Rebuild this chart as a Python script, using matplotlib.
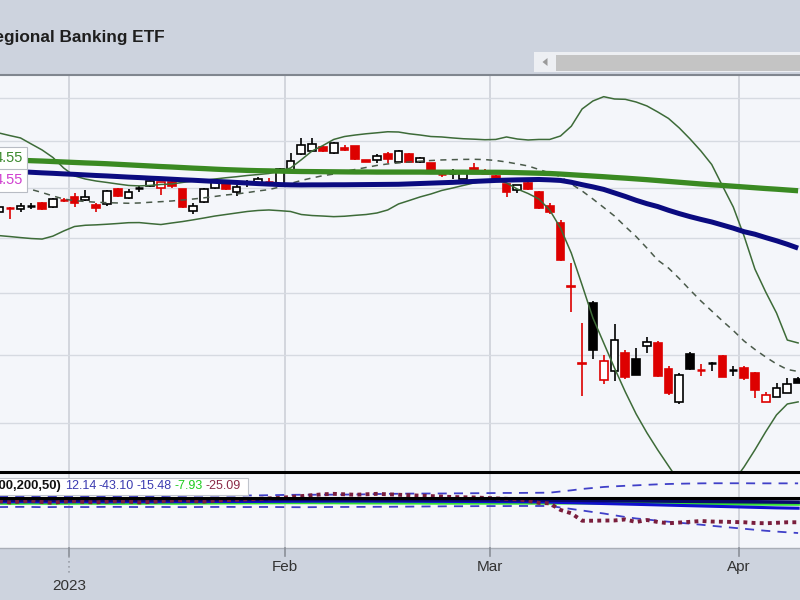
import numpy as np
import pandas as pd
import matplotlib
matplotlib.use('Agg')
import matplotlib.pyplot as plt
from matplotlib.patches import Rectangle, Polygon
from matplotlib.lines import Line2D
from matplotlib.transforms import blended_transform_factory

# trading days, Dec 20 2022 .. Apr 11 2023
holidays = ['2022-12-26', '2023-01-02', '2023-01-16', '2023-02-20', '2023-04-07']
dates = pd.bdate_range('2022-12-20', '2023-04-11', freq='C', holidays=holidays)

opens = [57.50, 57.52, 58.00, 57.79, 58.14, 58.40, 57.99, 58.78,
         59.07, 58.73, 58.23, 58.30, 59.82, 58.96, 59.90, 60.18, 59.92, 60.56,
         59.82, 57.66, 58.56, 59.92, 60.32, 59.57, 60.40, 60.49, 60.58, 60.35,
         61.84, 63.57, 63.90, 64.31, 63.71, 64.20, 64.45, 62.92, 62.92, 63.54,
         62.74, 63.54, 62.74, 62.56, 61.43, 61.48, 60.89, 62.08, 61.57, 61.20,
         60.32, 59.75, 60.49, 59.57, 58.12, 56.48, 50.65, 44.36, 49.16, 43.08,
         43.78, 45.11, 44.64, 45.68, 45.92, 43.88, 41.49, 45.06, 43.82, 44.32,
         44.90, 43.82, 43.98, 43.58, 41.51, 41.87, 42.16, 43.12]
highs = [58.10, 58.22, 58.02, 58.40, 58.46, 58.50, 58.96, 58.90,
         59.48, 59.75, 58.40, 59.75, 59.92, 59.82, 60.13, 60.79, 60.62, 60.71,
         59.90, 58.40, 59.92, 60.79, 60.42, 60.25, 60.79, 61.13, 60.96, 62.05,
         63.65, 65.31, 65.31, 64.45, 64.93, 64.56, 64.50, 62.95, 63.54, 63.76,
         64.01, 63.65, 63.20, 62.60, 61.84, 61.95, 61.65, 62.56, 61.90, 61.30,
         60.40, 60.30, 60.60, 59.65, 58.40, 56.74, 52.72, 47.55, 49.38, 44.98,
         47.44, 45.37, 45.50, 46.41, 46.07, 44.15, 43.60, 45.24, 44.29, 44.46,
         44.98, 44.15, 44.13, 43.65, 42.17, 42.88, 43.20, 43.27]
lows = [57.30, 57.32, 56.81, 57.55, 57.79, 57.75, 57.89, 58.56,
        57.99, 58.63, 57.55, 58.15, 59.04, 58.80, 59.57, 60.08, 59.24, 59.92,
        57.92, 57.29, 58.40, 59.85, 59.72, 59.14, 60.08, 60.42, 60.35, 60.13,
        61.66, 63.46, 63.76, 63.76, 63.54, 63.93, 62.95, 62.70, 62.63, 62.56,
        62.63, 62.63, 62.63, 61.70, 61.06, 60.89, 60.85, 61.55, 61.40, 60.80,
        59.07, 59.42, 59.75, 57.80, 57.38, 52.90, 48.46, 41.92, 44.64, 42.79,
        43.01, 43.15, 43.45, 45.16, 43.30, 41.99, 41.34, 43.85, 43.38, 43.78,
        43.30, 43.38, 43.08, 41.77, 41.45, 41.85, 42.10, 42.85]
closes = [57.80, 58.02, 57.97, 58.15, 58.16, 57.85, 58.83, 58.73,
          58.40, 59.07, 57.89, 59.65, 59.14, 59.57, 59.93, 60.65, 60.58, 60.14,
          57.99, 58.12, 59.82, 60.60, 59.82, 60.08, 60.43, 60.89, 60.55, 61.91,
          62.84, 64.60, 64.66, 63.93, 64.75, 64.01, 63.00, 62.74, 63.38, 63.03,
          63.90, 62.74, 63.16, 61.77, 61.40, 61.50, 61.60, 61.58, 61.55, 60.86,
          59.57, 60.25, 59.82, 57.89, 57.55, 52.96, 50.56, 44.29, 45.37, 44.54,
          46.15, 43.34, 43.46, 45.97, 43.38, 42.13, 43.48, 43.88, 43.80, 44.34,
          43.34, 43.83, 43.23, 42.35, 41.99, 42.53, 42.81, 42.88]

ma_green = [63.02, 62.97, 62.93, 62.89, 62.84, 62.80, 62.75, 62.70,
            62.65, 62.60, 62.56, 62.51, 62.45, 62.39, 62.33, 62.27, 62.21, 62.16,
            62.10, 62.04, 61.99, 61.93, 61.88, 61.84, 61.80, 61.77, 61.75, 61.72,
            61.70, 61.68, 61.67, 61.66, 61.65, 61.64, 61.63, 61.63, 61.62, 61.62,
            61.62, 61.62, 61.62, 61.61, 61.61, 61.61, 61.61, 61.60, 61.60, 61.60,
            61.59, 61.56, 61.53, 61.50, 61.47, 61.41, 61.34, 61.27, 61.20, 61.13,
            61.05, 60.98, 60.90, 60.82, 60.73, 60.64, 60.55, 60.46, 60.37, 60.29,
            60.22, 60.14, 60.06, 59.98, 59.90, 59.83, 59.75, 59.67]
ma_navy = [61.83, 61.78, 61.72, 61.66, 61.60, 61.54, 61.49, 61.43,
           61.38, 61.32, 61.26, 61.21, 61.15, 61.09, 61.04, 60.98, 60.93, 60.87,
           60.81, 60.76, 60.70, 60.64, 60.59, 60.53, 60.47, 60.41, 60.36, 60.31,
           60.28, 60.27, 60.28, 60.28, 60.29, 60.29, 60.30, 60.31, 60.32, 60.33,
           60.34, 60.38, 60.42, 60.46, 60.50, 60.54, 60.59, 60.64, 60.69, 60.74,
           60.77, 60.80, 60.82, 60.84, 60.80, 60.74, 60.55, 60.30, 60.07, 59.81,
           59.45, 59.09, 58.70, 58.36, 58.07, 57.70, 57.37, 57.07, 56.80, 56.55,
           56.25, 55.95, 55.61, 55.37, 55.05, 54.75, 54.42, 54.06]
bb_upper = [66.25, 65.91, 65.62, 65.35, 64.67, 64.01, 63.19, 62.05,
            61.21, 60.89, 60.68, 60.53, 60.37, 60.22, 60.17, 60.22, 60.32, 60.37,
            60.53, 60.68, 60.74, 60.89, 61.02, 61.13, 61.26, 61.36, 61.47, 61.73,
            62.05, 62.94, 63.90, 64.50, 65.18, 65.51, 65.68, 65.82, 65.93, 66.05,
            66.02, 65.82, 65.68, 65.51, 65.46, 65.35, 65.26, 65.21, 65.15, 65.18,
            65.46, 65.23, 65.12, 65.18, 65.18, 65.57, 66.68, 68.69, 69.64, 70.16,
            69.88, 69.84, 69.52, 69.05, 68.34, 67.58, 66.48, 65.23, 63.90, 62.43,
            60.17, 58.02, 55.19, 52.15, 50.13, 48.35, 46.15, 45.92]
bb_middle = [60.37, 60.17, 60.06, 59.96, 59.80, 59.49, 59.14, 58.83,
             58.66, 58.58, 58.50, 58.46, 58.43, 58.40, 58.43, 58.50, 58.56, 58.63,
             58.73, 58.83, 58.95, 59.09, 59.24, 59.34, 59.48, 59.65, 59.79, 60.06,
             60.42, 60.74, 61.00, 61.24, 61.41, 61.68, 61.90, 62.11, 62.33, 62.49,
             62.60, 62.70, 62.79, 62.86, 62.92, 62.95, 62.98, 62.99, 62.96, 62.86,
             62.70, 62.49, 62.27, 61.90, 61.52, 61.15, 60.37, 59.65, 58.83, 57.98,
             57.13, 56.11, 55.15, 54.07, 52.96, 52.24, 51.30, 50.30, 49.36, 48.52,
             47.69, 46.91, 46.07, 45.41, 44.82, 44.29, 43.87, 43.72]
bb_lower = [55.48, 55.24, 55.15, 55.05, 54.96, 54.91, 55.19, 55.68,
            56.11, 56.23, 56.27, 56.33, 56.40, 56.48, 56.49, 56.39, 56.30, 56.45,
            56.59, 56.76, 56.94, 57.13, 57.28, 57.43, 57.58, 57.68, 57.73, 57.66,
            57.58, 57.28, 57.18, 57.13, 57.07, 57.11, 57.20, 57.28, 57.43, 57.73,
            58.33, 58.68, 59.04, 59.34, 59.70, 59.95, 60.22, 60.48, 60.68, 60.79,
            60.48, 59.85, 59.39, 58.83, 57.73, 55.96, 53.60, 50.73, 47.94, 45.92,
            43.98, 42.21, 40.64, 39.34, 38.20, 37.16, 36.15, 35.35, 34.87, 34.87,
            35.29, 36.15, 37.10, 38.20, 39.41, 40.57, 41.34, 41.49]

# lower panel oscillator
osc_upper = [-2.0, -2.1, -2.0, -1.9, -2.0, -2.1, -2.0, -2.0,
             -1.9, -2.0, -2.0, -2.1, -2.0, -1.9, -2.0, -2.0, -2.0, -1.8,
             -1.7, -1.5, -1.5, -1.4, -1.5, -1.5, -1.3, -1.2, -1.0, -0.8,
             -0.6, -0.5, -0.5, -0.4, -0.4, -0.3, -0.2, 0.0, 0.3, 0.5,
             0.6, 0.8, 0.8, 0.9, 0.9, 1.0, 1.1, 1.2, 1.3, 1.4,
             1.5, 1.5, 1.6, 1.7, 1.8, 3.1, 4.4, 5.9, 7.0, 8.1,
             8.8, 9.4, 9.9, 10.5, 11.0, 11.4, 11.7, 11.9, 12.1, 12.2,
             12.2, 12.2, 12.2, 12.1, 12.1, 12.1, 12.1, 12.1]
osc_lower = [-14.0, -14.1, -14.0, -13.9, -14.0, -14.2, -14.1, -14.0,
             -14.0, -14.1, -14.0, -13.9, -13.9, -14.0, -14.1, -14.0, -14.0, -14.1,
             -14.2, -14.1, -14.0, -14.0, -13.9, -14.0, -14.1, -14.0, -14.0, -14.1,
             -14.2, -14.3, -14.2, -14.1, -14.0, -14.0, -13.9, -13.9, -13.8, -13.8,
             -13.7, -13.6, -13.5, -13.4, -13.3, -13.2, -13.2, -13.1, -13.0, -13.0,
             -13.0, -12.9, -12.9, -12.9, -12.9, -14.6, -16.2, -17.9, -19.6, -21.2,
             -23.2, -25.1, -26.7, -27.8, -29.2, -30.3, -31.4, -32.5, -33.6, -34.8,
             -35.9, -37.0, -38.1, -39.2, -40.3, -41.2, -42.0, -42.8]
osc_mid = [-8.3, -8.4, -8.3, -8.2, -8.3, -8.4, -8.3, -8.3,
           -8.2, -8.3, -8.3, -8.4, -8.3, -8.2, -8.3, -8.3, -8.3, -8.2,
           -8.2, -8.1, -8.1, -8.0, -8.0, -8.0, -7.9, -7.9, -7.8, -7.8,
           -7.7, -7.7, -7.6, -7.6, -7.5, -7.5, -7.5, -7.5, -7.6, -7.6,
           -7.6, -7.7, -7.7, -7.8, -7.8, -7.9, -7.9, -8.0, -8.0, -8.1,
           -8.1, -8.2, -8.3, -8.4, -8.6, -9.0, -9.3, -9.6, -9.9, -10.2,
           -10.5, -10.8, -11.1, -11.4, -11.7, -12.0, -12.3, -12.6, -12.9, -13.2,
           -13.5, -13.8, -14.1, -14.4, -14.7, -15.0, -15.2, -15.4]
osc_green = [-9.6, -9.6, -9.7, -9.6, -9.5, -9.6, -9.7, -9.6,
             -9.6, -9.5, -9.6, -9.6, -9.7, -9.6, -9.6, -9.5, -9.5, -9.6,
             -9.6, -9.5, -9.4, -9.4, -9.3, -9.3, -9.2, -9.2, -9.1, -9.1,
             -9.0, -9.0, -9.0, -9.1, -9.1, -9.2, -9.2, -9.3, -9.3, -9.3,
             -9.4, -9.4, -9.4, -9.5, -9.5, -9.5, -9.5, -9.5, -9.5, -9.5,
             -9.5, -9.5, -9.5, -9.5, -9.5, -9.4, -9.3, -9.3, -9.4, -9.5,
             -9.6, -9.7, -9.8, -9.9, -10.0, -10.1, -10.2, -10.3, -10.3, -10.4,
             -10.4, -10.5, -10.5, -10.6, -10.6, -10.7, -10.7, -10.7]
osc_navy = [-6.3, -6.3, -6.4, -6.3, -6.2, -6.3, -6.4, -6.3,
            -6.3, -6.2, -6.3, -6.3, -6.4, -6.3, -6.3, -6.2, -6.2, -6.3,
            -6.3, -6.2, -6.1, -6.1, -6.0, -6.0, -5.9, -5.9, -5.8, -5.8,
            -5.8, -5.8, -5.8, -5.9, -5.9, -5.9, -6.0, -6.0, -6.0, -6.1,
            -6.1, -6.1, -6.2, -6.2, -6.2, -6.3, -6.3, -6.3, -6.3, -6.3,
            -6.3, -6.3, -6.3, -6.3, -6.4, -6.5, -6.6, -6.7, -6.8, -6.9,
            -7.0, -7.1, -7.2, -7.3, -7.4, -7.5, -7.6, -7.7, -7.8, -7.9,
            -8.0, -8.1, -8.2, -8.3, -8.4, -8.5, -8.6, -8.7]
osc_line = [-8.5, -7.5, -9.0, -8.0, -7.0, -8.5, -9.5, -8.0,
            -7.5, -8.5, -9.0, -8.0, -7.5, -8.0, -9.0, -8.5, -7.5, -7.0,
            -6.5, -7.5, -8.0, -7.0, -6.5, -6.0, -5.5, -5.0, -4.5, -4.0,
            -3.0, -2.0, -1.0, 0.0, 0.5, 0.0, -0.5, 0.0, 0.5, 0.0,
            -0.5, -1.0, -1.5, -2.0, -2.5, -3.0, -3.3, -3.5, -4.0, -4.5,
            -5.0, -5.5, -7.0, -9.5, -10.0, -17.3, -21.0, -29.2, -29.2, -29.0,
            -28.9, -27.8, -30.6, -28.4, -30.6, -32.0, -31.2, -30.4, -29.5, -30.1,
            -30.3, -30.6, -30.9, -31.7, -32.0, -31.5, -30.9, -30.9]
osc_params = '(100,200,50)'
osc_values = ['12.14', '-43.10', '-15.48', '-7.93', '-25.09']
osc_colors = ['#3A3AB0', '#3A3AB0', '#3A3AB0', '#1ECC1E', '#8A2A48']

W, H = 800, 600
HEADER = '#CDD3DE'
PANEL = '#F4F6FA'
GRID = '#D6DAE1'
RED = '#DD0000'
plt.rcParams['font.family'] = ['Liberation Sans', 'DejaVu Sans']


def box(x0, y0, x1, y1):
    return [x0 / W, 1 - y1 / H, (x1 - x0) / W, (y1 - y0) / H]


x = np.arange(len(dates))
x = x - 8  # Jan 3 sits at 0
x_left, x_right = -74.5 / 10.8, (W - 74.5) / 10.8

# month boundaries
month_first = [i for i in range(1, len(dates)) if dates[i].month != dates[i - 1].month]
bounds = [x[i] - 0.5 for i in month_first]
bound_labels = ['2023' if dates[i].month == 1 else dates[i].strftime('%b') for i in month_first]

fig = plt.figure(figsize=(8, 6), dpi=100, facecolor=HEADER)
renderer = fig.canvas.get_renderer()

# header
fig.text(165 / W, 1 - 42 / H, 'Regional Banking ETF', ha='right', va='baseline',
         fontsize=12.4, fontweight='bold', color='#1E1E1E')
fig.patches.append(Rectangle((534 / W, 1 - 72 / H), (W - 534) / W, 20 / H,
                             transform=fig.transFigure, facecolor='#EDEFF3', edgecolor='none'))
fig.patches.append(Rectangle((556 / W, 1 - 71 / H), (W - 556) / W, 16 / H,
                             transform=fig.transFigure, facecolor='#C4C4C4', edgecolor='none'))
fig.patches.append(Polygon([(542.5 / W, 1 - 62 / H), (547.5 / W, 1 - 58 / H), (547.5 / W, 1 - 66 / H)],
                           closed=True, transform=fig.transFigure, facecolor='#9A9A9A', edgecolor='none'))

# price panel
ax = fig.add_axes(box(0, 74.5, W, 472))
ax.set_facecolor(PANEL)
ax.set_yscale('log')
ax.set_xlim(x_left, x_right)
ax.set_ylim(70 * np.exp(-(472 - 98) / 581), 70 * np.exp((98 - 74.5) / 581))
ax.set_yticks([40, 45, 50, 55, 60, 65, 70])
ax.yaxis.set_minor_locator(matplotlib.ticker.NullLocator())
ax.grid(axis='y', color=GRID, lw=1)
ax.tick_params(left=False, labelleft=False, bottom=False, labelbottom=False)
for b in bounds:
    ax.axvline(b, color='#C9CDD5', lw=1.1, zorder=1)
for s in ['left', 'right', 'bottom']:
    ax.spines[s].set_visible(False)
ax.spines['top'].set_color('#80868F')
ax.spines['top'].set_linewidth(1.5)

w = 0.72
for i in range(len(x)):
    o, h, l, c = opens[i], highs[i], lows[i], closes[i]
    prev = closes[i - 1] if i > 0 else o
    col = RED if c < prev else 'black'
    ax.vlines(x[i], l, h, color=col, lw=1.2, zorder=2)
    if abs(c - o) / c < 0.0012:
        ax.hlines(c, x[i] - w / 2, x[i] + w / 2, color=col, lw=1.8, zorder=3)
    else:
        face = 'white' if c > o else col
        ax.add_patch(Rectangle((x[i] - w / 2, min(o, c)), w, abs(c - o),
                               facecolor=face, edgecolor=col, lw=1.2, zorder=3))

bb_col = '#3D6B38'
ax.plot(x, bb_upper, color=bb_col, lw=1.1, zorder=4)
ax.plot(x, bb_lower, color=bb_col, lw=1.1, zorder=4)
ax.plot(x, bb_middle, color='#4A5A4A', lw=1.1, dashes=(4, 3.5), zorder=4)
ax.plot(x, ma_green, color='#3A8A22', lw=3.8, zorder=5, solid_capstyle='butt')
ax.plot(x, ma_navy, color='#0B0B80', lw=3.6, zorder=6, solid_capstyle='butt')

for yy, col in [(158.5, '#3C8A2E'), (180.5, '#D040D0')]:
    fig.text(23 / W, 1 - yy / H, '4.55', ha='right', va='center', fontsize=10.5,
             color=col, zorder=10,
             bbox=dict(boxstyle='square,pad=0.3', facecolor='white', edgecolor='#B8BCC4', lw=0.8))

# oscillator panel
ax2 = fig.add_axes(box(0, 472, W, 548))
ax2.set_facecolor(PANEL)
ax2.set_xlim(x_left, x_right)
ax2.set_ylim((494.3 - 548) / 0.905, (494.3 - 472) / 0.905)
ax2.tick_params(left=False, labelleft=False, bottom=False, labelbottom=False)
for b in bounds:
    ax2.axvline(b, color='#C9CDD5', lw=1.1, zorder=1)
for s in ['left', 'right']:
    ax2.spines[s].set_visible(False)
ax2.spines['top'].set_color('black')
ax2.spines['top'].set_linewidth(2.2)
ax2.spines['bottom'].set_color('#A9AEB7')
ax2.spines['bottom'].set_linewidth(1.0)

ax2.plot(x, osc_upper, color='#4040C8', lw=1.3, dashes=(5, 4), zorder=2)
ax2.plot(x, osc_lower, color='#4040C8', lw=1.3, dashes=(5, 4), zorder=2)
ax2.plot(x, osc_green, color='#33E033', lw=2.6, zorder=3)
ax2.plot(x, osc_mid, color='#1010D0', lw=2.2, zorder=3)
ax2.plot(x, osc_navy, color='#0A0A6A', lw=2.6, zorder=4)
ax2.plot(x, osc_line, color='#7A1E3C', lw=2.8, dashes=(1, 1.1), dash_capstyle='butt', zorder=5)
ax2.axhline((494.3 - 498.3) / 0.905, color='black', lw=2.2, zorder=6)

fig.patches.append(Rectangle((-5 / W, 1 - 494.5 / H), 253 / W, 17 / H, transform=fig.transFigure,
                             facecolor='white', edgecolor='#C0C4CC', lw=0.8, zorder=8))
ty = 1 - 486 / H
t = fig.text(61 / W, ty, osc_params, ha='right', va='center', fontsize=9.4,
             fontweight='bold', color='#111111', zorder=9)
cursor = 65
for txt, col in zip(osc_values, osc_colors):
    t = fig.text(cursor / W, ty, txt, ha='left', va='center', fontsize=9.0, color=col, zorder=9)
    cursor = t.get_window_extent(renderer).x1 + 2.6

# date axis below the panels
tr = blended_transform_factory(ax2.transData, fig.transFigure)
for b, lab in zip(bounds, bound_labels):
    fig.lines.append(Line2D([b, b], [1 - 548 / H, 1 - 556 / H], transform=tr, color='#8A8F98', lw=1.2))
    if lab == '2023':
        fig.lines.append(Line2D([b, b], [1 - 556 / H, 1 - 574 / H], transform=tr, color='#9A9FA8',
                                lw=1.2, ls=(0, (1, 2))))
        fig.text(b, 1 - 586 / H, lab, transform=tr, ha='center', va='center', fontsize=11, color='#333333')
    else:
        fig.text(b, 1 - 567 / H, lab, transform=tr, ha='center', va='center', fontsize=11, color='#333333')

fig.savefig('out.png', dpi=100, facecolor=HEADER)
